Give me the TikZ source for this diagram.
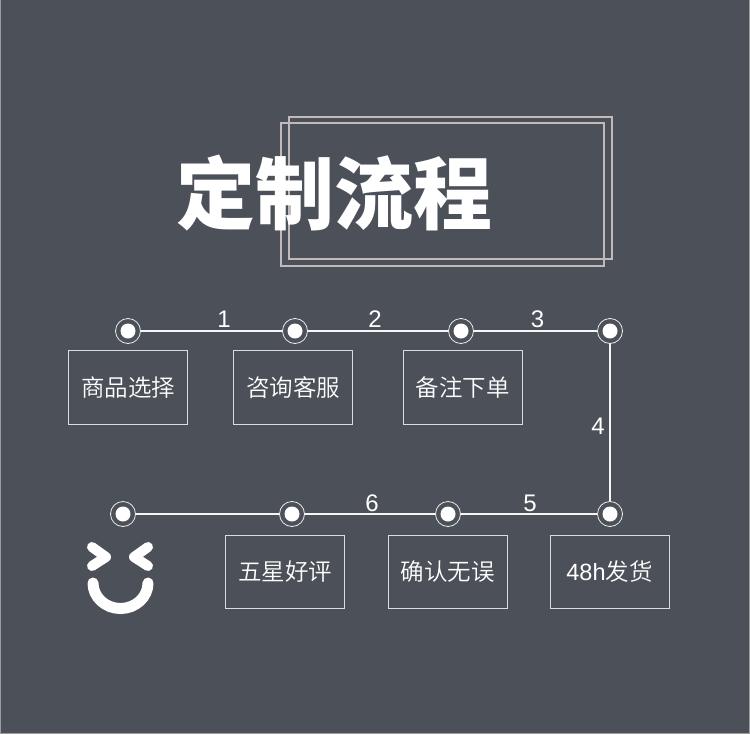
\documentclass[tikz,border=0pt]{standalone}
\usepackage{fontspec}
\setmainfont{Liberation Sans}
\newfontfamily\cjk{Noto Sans CJK SC DemiLight}
\newfontfamily\cjkb{Noto Sans CJK SC Black}
\definecolor{bgc}{HTML}{4C5059}
\definecolor{framec}{HTML}{C2B9BB}
\definecolor{edgec}{HTML}{9A9CA0}
\tikzset{
  x=1pt,y=-1pt,
  stepbox/.style={draw=white!80!bgc,line width=0.9pt,minimum width=119pt,minimum height=73.5pt,inner sep=0pt,text=white,font=\cjk\fontsize{23.5}{24}\selectfont},
  dotnode/.style={circle,fill=white,minimum size=15pt,inner sep=0pt},
  ringnode/.style={circle,draw=white!90!bgc,line width=0.8pt,minimum size=25pt,inner sep=0pt},
  link/.style={draw=white!95!bgc,line width=1.7pt},
  num/.style={text=white,inner sep=0pt,font=\fontsize{24}{24}\selectfont},
  frameline/.style={draw=framec,line width=1.5pt},
  eye/.style={draw=white,line width=10pt,line cap=round,line join=round},
  smile/.style={draw=white,line width=11pt,line cap=round}
}
\begin{document}
\begin{tikzpicture}
\useasboundingbox[fill=bgc] (0,0) rectangle (750,734);
\draw[edgec,line width=1.5pt] (0.5,0) -- (0.5,733.5) -- (749.5,733.5) -- (749.5,0);
\draw[frameline] (281,123) rectangle (604,266);
\draw[frameline] (289,117) rectangle (612,259);
\node[text=white,inner sep=0pt,font=\cjkb\fontsize{79}{80}\selectfont] (title) at (334,193) {定制流程};
\foreach \n/\x/\y in {a/128/331,b/295/331,c/461/331,d/610/331,e/610/514,f/448/514,g/292/514,h/123/514}{
  \node[ringnode] (r\n) at (\x,\y) {};
  \node[dotnode] (d\n) at (\x,\y) {};
}
\draw[link] (ra) -- (rb);
\draw[link] (rb) -- (rc);
\draw[link] (rc) -- (rd);
\draw[link] (rd) -- (re);
\draw[link] (re) -- (rf);
\draw[link] (rf) -- (rg);
\draw[link] (rg) -- (rh);
\node[num] (n1) at (224,319) {1};
\node[num] (n2) at (375,319) {2};
\node[num] (n3) at (537.5,319) {3};
\node[num] (n4) at (598,426) {4};
\node[num] (n5) at (530,503) {5};
\node[num] (n6) at (372,503) {6};
\node[stepbox] (s1) at (128,387.5) {商品选择};
\node[stepbox] (s2) at (293,387.5) {咨询客服};
\node[stepbox] (s3) at (462.5,387.5) {备注下单};
\node[stepbox] (s4) at (609.5,572) {\fontspec{Liberation Sans}48h\cjk 发货};
\node[stepbox] (s5) at (447.5,572) {确认无误};
\node[stepbox] (s6) at (285,572) {五星好评};
\draw[eye] (92,547) -- (106,557) -- (92,566);
\draw[eye] (148,547) -- (134,557) -- (148,566);
\draw[smile] (93,583) arc[start angle=180,end angle=360,x radius=27.5pt,y radius=25.5pt];
\end{tikzpicture}
\end{document}
